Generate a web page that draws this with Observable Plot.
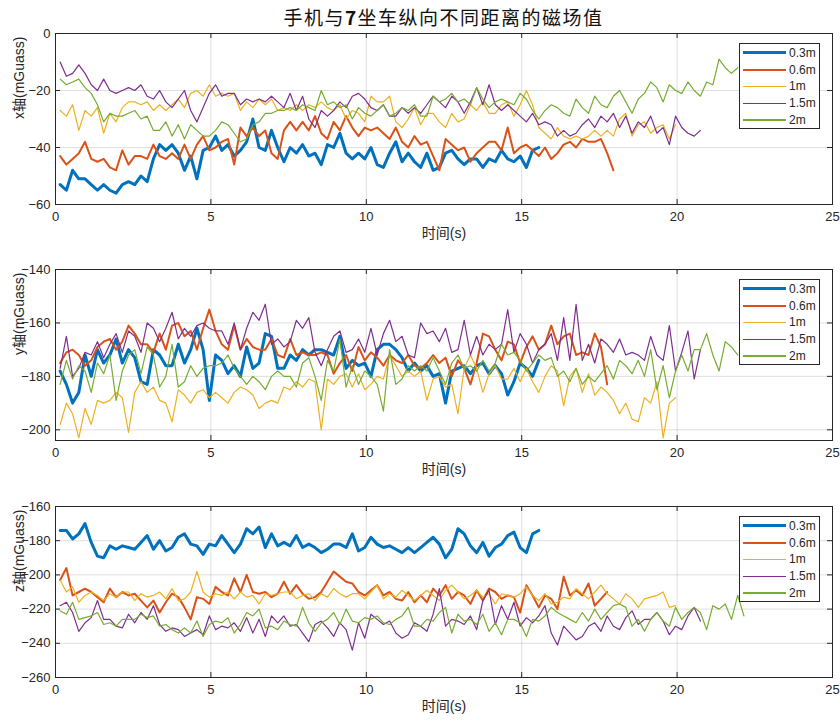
<!DOCTYPE html>
<html><head><meta charset="utf-8">
<script src="https://cdn.jsdelivr.net/npm/d3@7"></script>
<script src="https://cdn.jsdelivr.net/npm/@observablehq/plot@0.6"></script>
<style>
body{margin:0;background:#fff;}
#wrap{position:relative;width:840px;height:724px;overflow:hidden;font-family:'Liberation Sans',Arial,'Noto Sans CJK SC',sans-serif;color:#262626;}
#title{position:absolute;left:0;top:6px;width:887px;text-align:center;font-size:19px;line-height:22px;letter-spacing:1.5px;color:#111;font-family:'Noto Sans CJK SC','Liberation Sans',sans-serif;}
.panel{position:absolute;left:0;}
.legend{position:absolute;left:739px;width:79px;height:83px;border:1px solid #262626;background:#fff;padding-top:0.6px;box-sizing:content-box;}
.row{height:16.75px;display:flex;align-items:center;font-size:12px;color:#262626;}
.sw{width:43px;margin-left:3px;margin-right:3px;}
</style>
</head><body>
<div id="wrap"><div id="title">手机与<b>7</b>坐车纵向不同距离的磁场值</div></div>
<script>
// sampling of every series: first time stamp and step (s)
const t0 = 0.15, dt = 0.2;
const xTicks = [0, 5, 10, 15, 20, 25];
const seriesNames = ["0.3m", "0.6m", "1m", "1.5m", "2m"];
const seriesColors = ["#0072BD", "#D95319", "#EDB120", "#7E2F8E", "#77AC30"];
const seriesWidths = [3, 2, 1.2, 1.2, 1.2];

// ---- x axis (mGuass)
const x03 = [-53,-55,-48,-51,-51,-53,-55,-53,-55,-56,
 -53,-52,-53,-50,-52,-44,-39,-41,-39,-42,
 -48,-43,-51,-41,-40,-36,-41,-39,-43,-41,
 -38,-30,-40,-41,-34,-40,-45,-40,-42,-39,
 -43,-42,-46,-39,-40,-35,-42,-44,-42,-44,
 -40,-46,-47,-42,-38,-45,-42,-45,-47,-42,
 -48,-47,-42,-41,-44,-46,-44,-44,-47,-44,
 -45,-41,-44,-45,-43,-47,-41,-40];
const x06 = [-43,-46,-44,-42,-38,-44,-45,-44,-47,-48,
 -41,-46,-43,-43,-44,-39,-43,-44,-42,-44,
 -39,-44,-39,-36,-41,-40,-38,-37,-46,-33,
 -36,-33,-36,-34,-42,-44,-34,-31,-34,-31,
 -34,-29,-35,-37,-31,-34,-29,-33,-36,-33,
 -34,-33,-35,-37,-33,-38,-40,-36,-39,-38,
 -43,-48,-37,-39,-41,-40,-45,-42,-40,-38,
 -38,-41,-33,-42,-40,-39,-41,-43,-40,-44,
 -42,-39,-38,-40,-37,-38,-38,-37,-42,-48];
const x1 = [-27,-29,-25,-34,-27,-29,-26,-35,-28,-31,
 -26,-24,-24,-25,-24,-27,-25,-27,-25,-23,
 -26,-21,-20,-22,-18,-22,-21,-22,-21,-27,
 -24,-26,-23,-25,-23,-27,-26,-27,-25,-27,
 -25,-26,-24,-26,-27,-25,-30,-27,-28,-31,
 -22,-24,-24,-22,-31,-33,-30,-26,-32,-28,
 -28,-31,-33,-28,-31,-30,-25,-27,-24,-28,
 -28,-25,-24,-29,-25,-20,-25,-33,-35,-37,
 -33,-36,-37,-36,-37,-36,-34,-36,-34,-36,
 -30,-28,-36,-32,-31,-35,-33,-32,-37,-32];
const x15 = [-10,-15,-14,-11,-14,-18,-20,-16,-20,-21,
 -20,-19,-20,-18,-22,-23,-20,-24,-26,-23,
 -20,-27,-31,-26,-21,-18,-22,-21,-21,-25,
 -23,-24,-23,-24,-22,-24,-26,-21,-27,-22,
 -30,-33,-27,-29,-27,-24,-26,-22,-21,-23,
 -26,-27,-25,-29,-29,-26,-28,-26,-28,-25,
 -22,-24,-26,-22,-24,-28,-24,-19,-25,-18,
 -25,-27,-25,-27,-29,-31,-28,-32,-31,-32,
 -36,-34,-36,-35,-32,-30,-33,-29,-31,-28,
 -33,-29,-35,-31,-33,-29,-35,-33,-39,-29,
 -33,-35,-36,-34];
const x2 = [-16,-18,-17,-16,-19,-21,-25,-31,-28,-29,
 -29,-28,-27,-30,-29,-34,-34,-31,-36,-32,
 -37,-32,-34,-36,-36,-34,-31,-32,-35,-38,
 -37,-32,-31,-28,-28,-27,-27,-26,-27,-25,
 -26,-27,-20,-25,-24,-26,-25,-30,-26,-28,
 -29,-27,-25,-29,-28,-26,-27,-25,-29,-29,
 -22,-24,-23,-21,-24,-23,-25,-19,-23,-26,
 -24,-23,-24,-25,-21,-23,-27,-30,-27,-25,
 -26,-28,-29,-23,-26,-28,-22,-25,-26,-22,
 -20,-24,-28,-23,-21,-17,-19,-24,-18,-20,
 -21,-17,-20,-22,-17,-18,-9,-12,-14,-12];

// ---- y axis (mGuass)
const y03 = [-178,-183,-190,-186,-172,-180,-170,-175,-172,-166,
 -175,-170,-173,-182,-183,-170,-172,-176,-176,-168,
 -175,-170,-162,-170,-189,-172,-174,-179,-176,-180,
 -169,-177,-175,-164,-165,-177,-177,-172,-174,-170,
 -172,-170,-170,-171,-172,-165,-177,-174,-176,-175,
 -180,-170,-168,-168,-170,-173,-178,-175,-178,-176,
 -180,-179,-190,-178,-177,-176,-179,-176,-175,-179,
 -176,-179,-187,-182,-175,-177,-180,-174];
const y06 = [-175,-171,-170,-172,-176,-174,-169,-167,-166,-170,
 -167,-161,-164,-168,-168,-171,-164,-170,-161,-160,
 -165,-163,-170,-162,-155,-163,-168,-170,-161,-170,
 -166,-169,-170,-170,-166,-172,-173,-166,-172,-171,
 -172,-172,-171,-172,-179,-175,-172,-178,-169,-174,
 -171,-173,-176,-172,-174,-175,-172,-176,-177,-175,
 -172,-175,-173,-180,-174,-177,-183,-175,-164,-165,
 -170,-174,-167,-168,-175,-169,-165,-170,-168,-161,
 -168,-165,-164,-172,-171,-172,-164,-169,-183];
const y1 = [-198,-190,-194,-203,-192,-198,-189,-190,-189,-186,
 -188,-201,-186,-182,-186,-184,-189,-190,-197,-185,
 -187,-190,-186,-185,-188,-186,-188,-190,-186,-184,
 -185,-187,-192,-190,-189,-190,-184,-185,-182,-184,
 -181,-182,-200,-181,-183,-180,-179,-184,-179,-185,
 -183,-180,-181,-172,-176,-180,-178,-180,-178,-189,
 -181,-180,-184,-183,-194,-177,-172,-177,-186,-179,
 -176,-181,-181,-177,-182,-177,-182,-186,-180,-176,
 -178,-191,-180,-177,-186,-179,-187,-184,-186,-189,
 -194,-190,-196,-197,-188,-190,-182,-203,-190,-188];
const y15 = [-177,-165,-180,-177,-171,-172,-167,-173,-168,-164,
 -171,-163,-165,-171,-160,-162,-167,-162,-156,-166,
 -162,-165,-161,-160,-162,-163,-163,-168,-160,-170,
 -162,-156,-159,-153,-168,-166,-169,-167,-159,-162,
 -158,-171,-176,-170,-165,-163,-171,-170,-166,-171,
 -162,-172,-164,-159,-167,-165,-172,-173,-160,-164,
 -163,-167,-162,-171,-170,-159,-172,-165,-172,-168,
 -170,-168,-155,-171,-164,-168,-175,-170,-168,-164,
 -174,-158,-174,-153,-174,-168,-175,-166,-168,-171,
 -166,-172,-171,-172,-174,-165,-172,-174,-161,-178,
 -171,-163,-181,-170];
const y2 = [-183,-174,-181,-176,-178,-186,-175,-179,-172,-189,
 -178,-172,-170,-179,-169,-172,-184,-180,-168,-184,
 -182,-176,-180,-177,-176,-176,-175,-172,-177,-180,
 -183,-180,-182,-185,-180,-178,-180,-180,-184,-175,
 -173,-180,-189,-174,-178,-166,-184,-176,-183,-178,
 -180,-183,-193,-170,-183,-181,-176,-178,-176,-178,
 -173,-178,-183,-175,-172,-177,-176,-178,-174,-178,
 -175,-168,-172,-171,-174,-178,-175,-172,-174,-173,
 -180,-178,-182,-177,-183,-180,-182,-179,-176,-181,
 -174,-176,-179,-174,-180,-170,-185,-176,-188,-178,
 -172,-178,-170,-170,-164,-172,-178,-167,-169,-172];

// ---- z axis (mGuass)
const z03 = [-174,-174,-179,-176,-170,-181,-189,-190,-183,-185,
 -183,-184,-185,-181,-177,-185,-180,-186,-184,-178,
 -176,-182,-183,-188,-182,-183,-177,-182,-187,-182,
 -173,-176,-172,-184,-176,-183,-181,-183,-177,-184,
 -182,-184,-187,-185,-182,-182,-184,-176,-186,-184,
 -178,-182,-184,-183,-185,-187,-184,-187,-184,-181,
 -178,-182,-190,-185,-173,-176,-183,-187,-181,-189,
 -184,-182,-177,-175,-184,-187,-176,-174];
const z06 = [-203,-196,-212,-210,-208,-210,-213,-216,-208,-213,
 -210,-212,-211,-215,-219,-215,-222,-216,-211,-213,
 -219,-226,-213,-214,-217,-207,-210,-212,-202,-210,
 -200,-210,-211,-210,-213,-211,-204,-211,-206,-211,
 -214,-213,-210,-204,-198,-201,-204,-205,-210,-212,
 -209,-206,-212,-210,-214,-215,-210,-216,-212,-216,
 -208,-212,-206,-214,-210,-212,-217,-209,-215,-208,
 -210,-214,-212,-213,-222,-206,-212,-219,-212,-214,
 -220,-201,-212,-209,-212,-205,-218,-214,-210];
const z1 = [-203,-210,-207,-216,-212,-210,-212,-215,-211,-213,
 -210,-210,-215,-211,-213,-212,-210,-214,-208,-215,
 -214,-210,-198,-210,-213,-211,-212,-210,-214,-210,
 -213,-212,-217,-211,-212,-211,-210,-210,-214,-212,
 -211,-215,-211,-213,-208,-211,-213,-211,-211,-214,
 -210,-206,-214,-211,-213,-209,-212,-215,-212,-209,
 -212,-215,-209,-206,-210,-214,-212,-209,-213,-211,
 -217,-211,-212,-213,-211,-207,-212,-215,-211,-217,
 -216,-213,-214,-208,-211,-214,-210,-206,-211,-214,
 -217,-211,-214,-219,-214,-213,-212,-210,-219,-218];
const z15 = [-218,-216,-222,-233,-228,-225,-215,-226,-226,-230,
 -231,-223,-228,-222,-226,-218,-229,-233,-231,-232,
 -236,-234,-232,-235,-224,-232,-230,-231,-228,-233,
 -225,-234,-226,-236,-224,-228,-224,-230,-229,-234,
 -239,-229,-227,-231,-236,-228,-232,-244,-228,-237,
 -223,-226,-229,-227,-234,-237,-235,-228,-230,-233,
 -223,-208,-230,-226,-227,-229,-224,-232,-215,-209,
 -229,-218,-226,-216,-230,-225,-228,-224,-218,-234,
 -241,-230,-234,-238,-236,-230,-228,-233,-224,-230,
 -232,-225,-221,-229,-226,-226,-222,-227,-235,-230,
 -232,-224,-219,-227];
const z2 = [-221,-223,-216,-226,-225,-224,-222,-229,-228,-230,
 -226,-226,-226,-223,-225,-224,-230,-229,-232,-234,
 -231,-234,-227,-236,-229,-227,-228,-225,-234,-229,
 -222,-224,-220,-231,-230,-232,-227,-229,-230,-219,
 -228,-233,-228,-226,-222,-229,-220,-227,-228,-225,
 -226,-224,-228,-229,-226,-224,-219,-230,-230,-226,
 -227,-222,-219,-234,-223,-227,-226,-229,-223,-233,
 -228,-235,-226,-226,-228,-236,-226,-227,-224,-219,
 -222,-224,-226,-228,-222,-227,-220,-226,-222,-218,
 -217,-219,-230,-226,-233,-226,-222,-227,-230,-219,
 -226,-222,-219,-222,-232,-218,-220,-217,-226,-212,
 -224];

const xYTicks = [-60, -40, -20, 0];
const yYTicks = [-200, -180, -160, -140];
const zYTicks = [-260, -240, -220, -200, -180, -160];

const panels = [
  {top: 23, yDomain: [-60, 0], yTicks: xYTicks, yLabel: "x轴(mGuass)", series: [x03, x06, x1, x15, x2]},
  {top: 259, yDomain: [-204, -140], yTicks: yYTicks, yLabel: "y轴(mGuass)", series: [y03, y06, y1, y15, y2]},
  {top: 496, yDomain: [-260, -160], yTicks: zYTicks, yLabel: "z轴(mGuass)", series: [z03, z06, z1, z15, z2]}
];

const W = 840, mL = 55, mR = 8, mT = 10, mB = 40, frameH = 171;
const frameW = W - mL - mR;
const font = "'Liberation Sans', Arial, 'Noto Sans CJK SC', sans-serif";
const wrap = document.getElementById("wrap");

for (const p of panels) {
  const lineMarks = p.series.map((vals, k) =>
    Plot.line(vals.map((v, i) => ({t: t0 + i * dt, v})), {
      x: "t", y: "v", stroke: seriesColors[k], strokeWidth: seriesWidths[k],
      strokeLinejoin: "round", strokeLinecap: "round", clip: true
    }));
  const svg = Plot.plot({
    width: W, height: mT + frameH + mB,
    marginLeft: mL, marginRight: mR, marginTop: mT, marginBottom: mB,
    style: {fontSize: "13px", fontFamily: font, color: "#262626", background: "transparent", overflow: "visible"},
    x: {domain: [0, 25], ticks: xTicks, label: null},
    y: {domain: p.yDomain, ticks: p.yTicks, label: null},
    marks: [
      Plot.gridX(xTicks, {stroke: "#262626", strokeOpacity: 0.15}),
      Plot.gridY(p.yTicks, {stroke: "#262626", strokeOpacity: 0.15}),
      ...lineMarks,
      Plot.frame({stroke: "#262626", strokeWidth: 1}),
      Plot.tickX(xTicks, {x: d => d, insetTop: frameH - 5, stroke: "#262626"}),
      Plot.tickX(xTicks, {x: d => d, insetBottom: frameH - 5, stroke: "#262626"}),
      Plot.tickY(p.yTicks, {y: d => d, insetRight: frameW - 5, stroke: "#262626"}),
      Plot.tickY(p.yTicks, {y: d => d, insetLeft: frameW - 5, stroke: "#262626"}),
      Plot.axisX(xTicks, {tickSize: 0, tickPadding: 7, label: null}),
      Plot.axisY(p.yTicks, {tickSize: 0, tickPadding: 5, label: null}),
      Plot.text(["时间(s)"], {frameAnchor: "bottom", dy: 33, fontSize: 14, fill: "#262626"}),
      Plot.text([p.yLabel], {frameAnchor: "left", dx: -36, rotate: -90, fontSize: 14, fill: "#262626"})
    ]
  });
  const holder = document.createElement("div");
  holder.className = "panel";
  holder.style.top = p.top + "px";
  holder.appendChild(svg);
  wrap.appendChild(holder);

  const lg = document.createElement("div");
  lg.className = "legend";
  lg.style.top = (p.top + mT + 10) + "px";
  seriesNames.forEach((name, k) => {
    const row = document.createElement("div");
    row.className = "row";
    const sw = document.createElement("span");
    sw.className = "sw";
    sw.style.height = seriesWidths[k] + "px";
    sw.style.background = seriesColors[k];
    const tx = document.createElement("span");
    tx.textContent = name;
    row.appendChild(sw);
    row.appendChild(tx);
    lg.appendChild(row);
  });
  wrap.appendChild(lg);
}
</script>
</body></html>
